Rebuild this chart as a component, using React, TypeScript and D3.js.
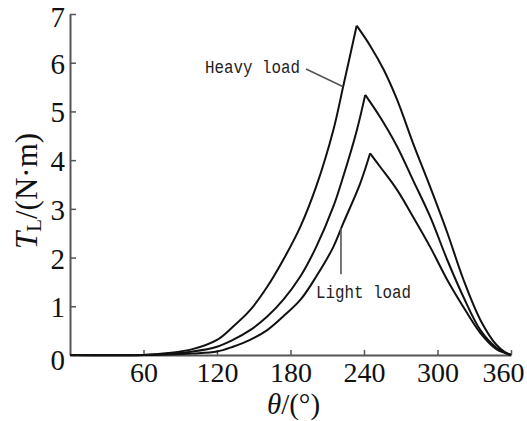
import { useEffect, useRef } from 'react'
import * as d3 from 'd3'

// [theta (deg), torque (N·m)]
const heavyLoad: [number, number][] = [
  [0, 0], [60, 0], [80, 0.04], [100, 0.12], [120, 0.31], [133, 0.58], [147, 0.92],
  [161, 1.4], [174, 1.95], [188, 2.63], [201, 3.46], [215, 4.62], [223, 5.51],
  [234, 6.76],
  [245, 6.35], [256, 5.86], [267, 5.24], [280, 4.35], [294, 3.45], [308, 2.51],
  [321, 1.56], [335, 0.72], [348, 0.21], [355, 0.06], [360, 0],
]
const mediumLoad: [number, number][] = [
  [0, 0], [60, 0], [80, 0.02], [100, 0.07], [120, 0.17], [133, 0.31], [147, 0.51],
  [161, 0.79], [174, 1.13], [188, 1.61], [201, 2.22], [215, 3.05], [223, 3.66],
  [234, 4.6], [241, 5.34],
  [253, 4.89], [267, 4.28], [280, 3.59], [294, 2.84], [308, 1.95], [321, 1.2],
  [335, 0.51], [348, 0.15], [355, 0.05], [360, 0],
]
const lightLoad: [number, number][] = [
  [0, 0], [60, 0], [80, 0.01], [100, 0.03], [120, 0.07], [133, 0.17], [147, 0.31],
  [161, 0.51], [174, 0.79], [188, 1.13], [201, 1.61], [215, 2.22], [223, 2.7],
  [237, 3.53], [245, 4.14],
  [253, 3.87], [267, 3.39], [280, 2.84], [294, 2.22], [308, 1.54], [321, 0.99],
  [335, 0.45], [348, 0.12], [355, 0.04], [360, 0],
]
const series = [heavyLoad, mediumLoad, lightLoad]

const xTicks = [60, 120, 180, 240, 300, 360]
const yTicks = [0, 1, 2, 3, 4, 5, 6, 7]

// annotations: label, text anchor point, leader line from -> to (data units)
const notes = [
  { text: 'Heavy load', at: [187.8, 5.79], anchor: 'end', from: [192.7, 5.87], to: [222.6, 5.51] },
  { text: 'Light load', at: [200.8, 1.17], anchor: 'start', from: [221.2, 1.66], to: [221.2, 2.6] },
]

function App() {
  const ref = useRef<SVGSVGElement>(null)

  useEffect(() => {
    const width = 527, height = 421
    const svg = d3.select(ref.current)
    svg.selectAll('*').remove()

    const x = d3.scaleLinear().domain([0, 360]).range([70, 511])
    const y = d3.scaleLinear().domain([0, 7]).range([355, 14])

    const axisColor = '#555'
    const serif = '"Liberation Serif", "Times New Roman", serif'

    // x axis
    const gx = svg.append('g')
      .attr('transform', `translate(0, ${y(0)})`)
      .call(d3.axisBottom(x).tickValues(xTicks).tickFormat(d3.format('d')).tickSize(-5).tickSizeOuter(0).tickPadding(7))
    gx.select('.domain').attr('stroke', axisColor).attr('stroke-width', 2)
    gx.selectAll('.tick line').attr('stroke', axisColor).attr('stroke-width', 1.5)
    gx.selectAll('.tick text')
      .attr('fill', '#111')
      .attr('dx', (d: any) => (d === 360 ? -8 : 0))
      .style('font-family', serif)
      .style('font-size', '28px')

    // y axis
    const gy = svg.append('g')
      .attr('transform', `translate(${x(0)}, 0)`)
      .call(d3.axisLeft(y).tickValues(yTicks).tickFormat(d3.format('d')).tickSize(-6).tickSizeOuter(0).tickPadding(5))
    gy.select('.domain').attr('stroke', axisColor).attr('stroke-width', 2)
    gy.selectAll('.tick line').attr('stroke', axisColor).attr('stroke-width', 1.5)
    gy.selectAll('.tick text')
      .attr('fill', '#111')
      .attr('dy', (d: any) => (d === 0 ? '0.5em' : d === 7 ? '0.42em' : '0.36em'))
      .style('font-family', serif)
      .style('font-size', '29px')

    // curves: rising and falling part drawn separately so the peak stays sharp
    const line = d3.line<[number, number]>()
      .x(d => x(d[0]))
      .y(d => y(d[1]))
      .curve(d3.curveCatmullRom.alpha(0.5))
    series.forEach(s => {
      const peak = d3.maxIndex(s, d => d[1])
      const parts = [s.slice(0, peak + 1), s.slice(peak)]
      parts.forEach(p => {
        svg.append('path')
          .attr('d', line(p))
          .attr('fill', 'none')
          .attr('stroke', '#111')
          .attr('stroke-width', 2)
      })
    })

    // annotations
    notes.forEach(n => {
      svg.append('line')
        .attr('x1', x(n.from[0])).attr('y1', y(n.from[1]))
        .attr('x2', x(n.to[0])).attr('y2', y(n.to[1]))
        .attr('stroke', '#555')
        .attr('stroke-width', 1.6)
      svg.append('text')
        .attr('x', x(n.at[0]))
        .attr('y', y(n.at[1]))
        .attr('text-anchor', n.anchor)
        .attr('fill', '#222')
        .attr('textLength', 95)
        .attr('lengthAdjust', 'spacingAndGlyphs')
        .style('font-family', '"Liberation Mono", "DejaVu Sans Mono", monospace')
        .style('font-size', '17.5px')
        .text(n.text)
    })

    // axis titles
    const yt = svg.append('text')
      .attr('transform', `translate(37, ${191}) rotate(-90)`)
      .attr('text-anchor', 'middle')
      .attr('fill', '#111')
      .style('font-family', serif)
      .style('font-size', '31px')
    yt.append('tspan').style('font-style', 'italic').text('T')
    yt.append('tspan').attr('font-size', '21px').attr('dy', 4).text('L')
    yt.append('tspan').attr('dy', -4).text('/(N·m)')

    const xt = svg.append('text')
      .attr('x', (x(0) + x(360)) / 2 + 3)
      .attr('y', 414)
      .attr('text-anchor', 'middle')
      .attr('fill', '#111')
      .style('font-family', serif)
      .style('font-size', '29px')
    xt.append('tspan').style('font-style', 'italic').text('θ')
    xt.append('tspan').text('/(°)')

    svg.attr('width', width).attr('height', height)
  }, [])

  return (
    <div style={{ position: 'absolute', left: 0, top: 0 }}>
      <svg ref={ref} width={527} height={421} style={{ display: 'block', background: '#fff' }} />
    </div>
  )
}

export default App
